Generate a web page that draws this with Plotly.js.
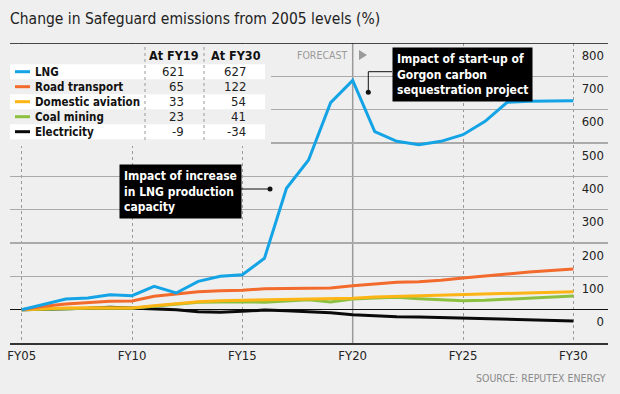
<!DOCTYPE html>
<html><head><meta charset="utf-8">
<script src="https://cdn.plot.ly/plotly-3.0.1.min.js"></script>
<style>html,body{margin:0;padding:0;background:#efefef}</style>
</head><body><div id="chart" style="width:620px;height:394px"></div>
<script>
// ---- data ----
const years = [2005,2006,2007,2008,2009,2010,2011,2012,2013,2014,2015,2016,2017,2018,2019,2020,2021,2022,2023,2024,2025,2026,2027,2028,2029,2030];
const lng = [0,15,32,35,45,42,70,50,85,100,105,154,364,449,621,688,534,505,495,505,525,565,622,625,625,627];
const roadTransport = [0,10,17,22,25,26,40,47,54,57,58,63,64,64,65,72,78,82,84,88,95,100,107,113,117,122];
const domesticAviation = [0,3,5,6,6,5,12,18,24,27,28,28,29,31,33,34,38,40,41,43,45,47,49,51,52,54];
const coalMining = [0,2,3,4,5,4,10,17,22,23,24,22,25,30,23,32,35,37,33,29,27,28,31,35,38,41];
const electricity = [0,1,2,4,7,5,3,0,-6,-8,-5,-1,-3,-5,-9,-15,-19,-21,-22,-24,-25,-26,-28,-30,-32,-34];

const seriesNames = ['LNG','Road transport','Domestic aviation','Coal mining','Electricity'];
const seriesData = [lng, roadTransport, domesticAviation, coalMining, electricity];
const seriesColors = ['#14a4e6','#f26a2c','#fdb515','#8cc13f','#0a0a0a'];
const atFY19 = [621, 65, 33, 23, -9];
const atFY30 = [627, 122, 54, 41, -34];
const tableHeaders = ['At FY19','At FY30'];

const xTickVals = [2005,2010,2015,2020,2025,2030];
const xTickText = ['FY05','FY10','FY15','FY20','FY25','FY30'];
const yTickVals = [0,100,200,300,400,500,600,700,800];
const yTickText = ['0','100','200','300','400','500','600','700','800'];
const forecastStart = 2020;

// ---- geometry ----
const W = 620, H = 394, L = 10, R = 12, T = 43, B = 51;
const PW = W - L - R, PH = H - T - B;
const XR = [2004.47, 2031.57], YR = [-100, 800];
const px2x = px => XR[0] + (px - L) / PW * (XR[1] - XR[0]);
const py2y = py => YR[1] - (py - T) / PH * (YR[1] - YR[0]);
const px2p = px => (px - L) / PW;
const py2p = py => 1 - (py - T) / PH;

const FONT = "'Liberation Sans Narrow','DejaVu Sans Condensed','Roboto Condensed',Roboto,sans-serif";
const BG = '#efefef';

// ---- traces ----
const traces = seriesNames.map((n, i) => ({
  x: years, y: seriesData[i], type: 'scatter', mode: 'lines', name: n,
  line: {color: seriesColors[i], width: 3}, hoverinfo: 'skip'
})).reverse();

// ---- shapes ----
const shapes = [];
shapes.push({type:'line', xref:'x', yref:'paper', x0:forecastStart, x1:forecastStart, y0:0, y1:1, line:{color:'#9a9a9a', width:1.5}, layer:'below'});
shapes.push({type:'rect', xref:'paper', yref:'paper', x0:px2p(10), x1:px2p(271), y0:py2p(146), y1:py2p(44), fillcolor:BG, line:{width:0}, layer:'above'});
const rowY = [71.7, 86.7, 101.7, 116.7, 131.7];
const headerY = 55;
rowY.forEach((ry, i) => {
  if (i % 2 === 0) shapes.push({type:'rect', xref:'paper', yref:'paper', x0:px2p(10), x1:px2p(265), y0:py2p(ry+7.5), y1:py2p(ry-7.5), fillcolor:'#ffffff', line:{width:0}, layer:'above'});
  shapes.push({type:'line', xref:'paper', yref:'paper', x0:px2p(15), x1:px2p(30), y0:py2p(ry), y1:py2p(ry), line:{color:seriesColors[i], width:3}, layer:'above'});
});
[145, 204].forEach(sx => shapes.push({type:'line', xref:'paper', yref:'paper', x0:px2p(sx), x1:px2p(sx), y0:py2p(140), y1:py2p(47), line:{color:'#999', width:1, dash:'dot'}, layer:'above'}));
shapes.push({type:'line', xref:'paper', yref:'y', x0:0, x1:1, y0:800, y1:800, line:{color:'#111', width:1.5}, layer:'above'});
shapes.push({type:'path', xref:'x', yref:'y', path:`M ${px2x(359)} ${py2y(50)} L ${px2x(367)} ${py2y(55)} L ${px2x(359)} ${py2y(60)} Z`, fillcolor:'#9a9a9a', line:{width:0}});
shapes.push({type:'line', xref:'x', yref:'y', x0:px2x(237), x1:px2x(270), y0:py2y(189), y1:py2y(189), line:{color:'#111', width:1}});
shapes.push({type:'path', xref:'x', yref:'y', path:`M ${px2x(392)} ${py2y(71.7)} L ${px2x(368.3)} ${py2y(71.7)} L ${px2x(368.3)} ${py2y(92.3)}`, line:{color:'#111', width:1}});
[[270,189],[368.3,92.3]].forEach(([dx,dy]) => shapes.push({type:'circle', xref:'x', yref:'y', xsizemode:'pixel', ysizemode:'pixel', xanchor:px2x(dx), yanchor:py2y(dy), x0:-2.5, x1:2.5, y0:-2.5, y1:2.5, fillcolor:'#111', line:{width:0}}));

// ---- annotations ----
const ann = [];
const tFont = (size, color) => ({family: FONT, size: size, color: color});
seriesNames.forEach((n, i) => {
  ann.push({xref:'paper', yref:'paper', x:px2p(33), y:py2p(rowY[i]), xanchor:'left', yanchor:'middle', text:'<b>'+n+'</b>', showarrow:false, font:tFont(11.5,'#111')});
  ann.push({xref:'paper', yref:'paper', x:px2p(186), y:py2p(rowY[i]), xanchor:'right', yanchor:'middle', text:String(atFY19[i]), showarrow:false, font:tFont(13,'#222')});
  ann.push({xref:'paper', yref:'paper', x:px2p(248), y:py2p(rowY[i]), xanchor:'right', yanchor:'middle', text:String(atFY30[i]), showarrow:false, font:tFont(13,'#222')});
});
ann.push({xref:'paper', yref:'paper', x:px2p(174), y:py2p(headerY), xanchor:'center', yanchor:'middle', text:'<b>'+tableHeaders[0]+'</b>', showarrow:false, font:tFont(12.5,'#111')});
ann.push({xref:'paper', yref:'paper', x:px2p(236), y:py2p(headerY), xanchor:'center', yanchor:'middle', text:'<b>'+tableHeaders[1]+'</b>', showarrow:false, font:tFont(12.5,'#111')});
ann.push({xref:'x', yref:'y', x:px2x(349), y:py2y(55), xanchor:'right', yanchor:'middle', text:'FORECAST', showarrow:false, font:tFont(10.5,'#9a9a9a')});
ann.push({xref:'x', yref:'y', x:px2x(119), y:py2y(164), xanchor:'left', yanchor:'top', align:'left', text:'<b>Impact of increase<br>in LNG production<br>capacity</b>', showarrow:false, bgcolor:'#000', borderpad:4, font:tFont(12,'#fff')});
ann.push({xref:'x', yref:'y', x:px2x(392), y:py2y(47), xanchor:'left', yanchor:'top', align:'left', text:'<b>Impact of start-up of<br>Gorgon carbon<br>sequestration project</b>', showarrow:false, bgcolor:'#000', borderpad:4, font:tFont(12,'#fff')});
ann.push({xref:'paper', yref:'paper', x:px2p(608), y:py2p(378), xanchor:'right', yanchor:'middle', text:'SOURCE: REPUTEX ENERGY', showarrow:false, font:tFont(10.5,'#8a8a8a')});

const layout = {
  width: W, height: H,
  margin: {l:L, r:R, t:T, b:B},
  paper_bgcolor: BG, plot_bgcolor: BG,
  showlegend: false,
  title: {text:'Change in Safeguard emissions from 2005 levels (%)', x:10/W, xref:'container', xanchor:'left', y:1-19/H, yref:'container', yanchor:'middle', font:tFont(15.5,'#222')},
  xaxis: {range: XR, tickvals: xTickVals, ticktext: xTickText, showgrid:true, griddash:'dot', gridcolor:'#9a9a9a', gridwidth:1, zeroline:false, showline:true, linecolor:'#333', linewidth:1.5, ticks:'', tickfont:tFont(13,'#222'), fixedrange:true},
  yaxis: {range: YR, tickvals: yTickVals, ticktext: yTickText, side:'right', ticklabelposition:'inside', ticklabelshift:12, ticklabelstandoff:1, showgrid:true, gridcolor:'#aaaaaa', gridwidth:1.3, zeroline:true, zerolinecolor:'#111', zerolinewidth:1.5, showline:false, ticks:'', tickfont:tFont(13,'#222'), fixedrange:true},
  shapes: shapes,
  annotations: ann
};
Plotly.newPlot('chart', traces, layout, {displayModeBar:false, staticPlot:true});
</script></body></html>
